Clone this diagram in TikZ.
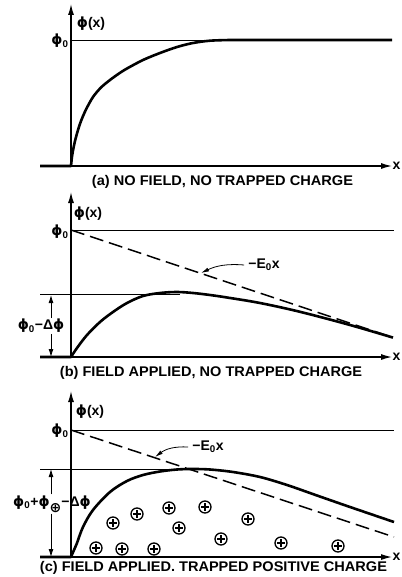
\documentclass[tikz,border=0pt]{standalone}
\usepackage{amsmath}
\usepackage{fontspec}
\newfontfamily\letterfont{Liberation Sans}
\newfontfamily\symfont{DejaVu Sans}
\newcommand\phig{{\symfont\bfseries ϕ}}
\usetikzlibrary{arrows.meta}

\begin{document}
\begin{tikzpicture}[
	x=1pt, y=-1pt,
	axis/.style={line width=1.3pt, -{Latex[length=11pt, width=6pt]}},
	curve/.style={line width=2.6pt, line join=round},
	level/.style={line width=0.9pt},
	fieldline/.style={line width=1.5pt, dash pattern=on 14pt off 6pt},
	dimarrow/.style={line width=0.9pt, -{Latex[length=8pt, width=5pt]}},
	labarrow/.style={line width=0.8pt, -{Latex[length=8pt, width=4pt]}},
	caption/.style={font=\letterfont\bfseries\fontsize{14}{14}\selectfont, inner sep=0pt},
	lbl/.style={font=\letterfont\bfseries\fontsize{14}{14}\selectfont, inner sep=1pt},
	charge/.style={circle, draw, line width=1.3pt, minimum size=12pt, inner sep=0pt,
		path picture={\draw[line width=1.3pt] ([xshift=-3.6pt]path picture bounding box.center) -- ([xshift=3.6pt]path picture bounding box.center);
			\draw[line width=1.3pt] ([yshift=-3.6pt]path picture bounding box.center) -- ([yshift=3.6pt]path picture bounding box.center);}}
]
	\useasboundingbox (0,0) rectangle (401,577);

	% (a) no field, no trapped charge
	\coordinate (aLeft) at (40,166);
	\coordinate (aOrig) at (71,166);
	\coordinate (aYend) at (71,4);
	\coordinate (aXend) at (392,166);
	\draw[axis] (aLeft) -- (aXend);
	\draw[axis] (aOrig) -- (aYend);
	\node[lbl, anchor=west, inner sep=0.5pt] (ax) at (aXend) {x};
	\node[lbl] (aPhi) at (91,24) {\phig(x)};
	\node[lbl] (aPhiZero) at (60,41) {\phig\textsubscript{0}};
	\draw[level] (71,40) -- (210,40);
	\draw[curve] (aLeft) -- plot[smooth, tension=0.5] coordinates {(71,166) (72,156.5) (73,150.5) (75,141) (78,130) (81,121) (86,109.5) (93,97) (101,87.5) (110,80) (119,73.5) (127,68.5) (143,60) (160,53) (177,47) (193,43) (210,40.7) (230,40)} -- (392,40);
	\node[caption] (aCap) at (222.5,182) {\resizebox{261pt}{\height}{(a) NO FIELD, NO TRAPPED CHARGE}};

	% (b) field applied, no trapped charge
	\coordinate (bLeft) at (40,357);
	\coordinate (bOrig) at (71,357);
	\coordinate (bYend) at (71,192);
	\coordinate (bXend) at (392,357);
	\draw[axis] (bLeft) -- (bXend);
	\draw[axis] (bOrig) -- (bYend);
	\node[lbl, anchor=west, inner sep=0.5pt] (bx) at (bXend) {x};
	\node[lbl] (bPhi) at (88,214) {\phig(x)};
	\node[lbl] (bPhiZero) at (60,232) {\phig\textsubscript{0}};
	\draw[level] (71,230) -- (394,230);
	\draw[level] (40,294) -- (180,294);
	\draw[fieldline] (71,230) -- (393,337.5);
	\draw[curve] (bLeft) -- plot[smooth, tension=0.55] coordinates {(71,357) (77,348) (87,335) (100,322) (113,312) (127,303) (143,296) (160,293) (177,292) (193,293) (210,295) (227,297.5) (260,303) (300,311.8) (350,325) (393,337.6)};
	\coordinate (bTop) at (51,295);
	\coordinate (bBot) at (51,357);
	\node[lbl] (bDim) at (41,326) {\phig\textsubscript{0}−Δ\phig};
	\draw[dimarrow] (bTop |- bDim.north) -- (bTop);
	\draw[dimarrow] (bBot |- bDim.south) -- (bBot);
	\node[lbl] (bField) at (264,265) {−E\textsubscript{0}x};
	\coordinate (bTip) at (201,273);
	\draw[labarrow] ([xshift=-3pt]bField.west) to[bend right=15] (bTip);
	\node[caption] (bCap) at (211,373) {\resizebox{302pt}{\height}{(b) FIELD APPLIED, NO TRAPPED CHARGE}};

	% (c) field applied, trapped positive charge
	\coordinate (cLeft) at (40,557);
	\coordinate (cOrig) at (71,557);
	\coordinate (cYend) at (71,391);
	\coordinate (cXend) at (392,557);
	\draw[axis] (cLeft) -- (cXend);
	\draw[axis] (cOrig) -- (cYend);
	\node[lbl, anchor=west, inner sep=0.5pt] (cx) at (cXend) {x};
	\node[lbl] (cPhi) at (90,412) {\phig(x)};
	\node[lbl] (cPhiZero) at (60,431) {\phig\textsubscript{0}};
	\draw[level] (71,430) -- (394,430);
	\draw[level] (40,469) -- (195,469);
	\draw[fieldline] (71,430) -- (394,537);
	\draw[curve] (cLeft) -- plot[smooth, tension=0.55] coordinates {(71,557) (74,550) (77,543) (83,527) (93,510) (110,492) (127,481) (143,475) (160,471.5) (177,469.5) (193,469) (210,469.5) (233,472) (260,477) (287,485) (317,495.5) (350,507) (394,522)};
	\coordinate (cTop) at (51,469);
	\coordinate (cBot) at (51,557);
	\node[lbl] (cDim) at (52,504) {\phig\textsubscript{0}+\phig\raisebox{-6pt}{\symfont\bfseries ⊕}−Δ\phig};
	\draw[dimarrow] (cTop |- cDim.north) -- (cTop);
	\draw[dimarrow] (cBot |- cDim.south) -- (cBot);
	\node[lbl] (cField) at (208,447) {−E\textsubscript{0}x};
	\coordinate (cTip) at (155,457);
	\draw[labarrow] ([xshift=-3pt]cField.west) to[bend right=20] (cTip);
	\foreach \px/\py [count=\i] in {113/523, 137/514, 169/508, 179/528, 96/548, 122/549, 154/549, 205/507, 248/519, 221/539, 281/543, 338/546}
		\node[charge] (q\i) at (\px,\py) {};
	\node[caption] (cCap) at (213.5,568) {\resizebox{347pt}{\height}{(c) FIELD APPLIED. TRAPPED POSITIVE CHARGE}};

\end{tikzpicture}
\end{document}
